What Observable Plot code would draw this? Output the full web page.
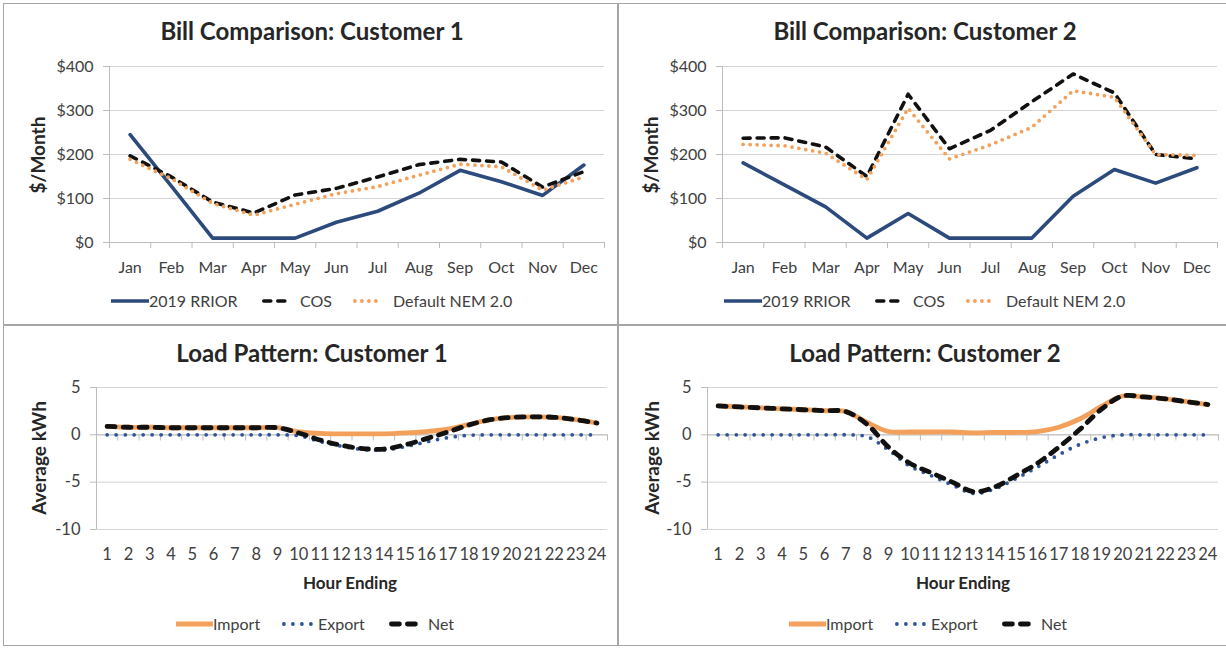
<!DOCTYPE html>
<html><head><meta charset="utf-8">
<script src="https://cdn.jsdelivr.net/npm/d3@7"></script>
<script src="https://cdn.jsdelivr.net/npm/@observablehq/plot@0.6"></script>
<style>
body{margin:0;background:#fff;font-family:Lato,"Open Sans",sans-serif;}
#root{position:relative;width:1226px;height:648px;overflow:hidden;background:#fff}
.panel{position:absolute;width:613px;}
.panel svg{position:absolute;left:0;top:0;}
.abs{position:absolute;white-space:nowrap;color:#262626;line-height:1}
.title{font-weight:bold;font-size:24px;transform:translate(-50%,-50%)}
.ylab{font-weight:bold;font-size:19px;transform:translate(-50%,-50%) rotate(-90deg)}
.xlab{font-weight:bold;font-size:17px;transform:translate(-50%,-50%)}
.legtxt{font-size:16px;color:#404040;transform:translateY(-50%)}
.sw{position:absolute;overflow:visible}
.line{position:absolute;background:#a6a6a6}
</style>
</head><body><div id="root"></div>
<script>
// ---- data ----
const months = ["Jan","Feb","Mar","Apr","May","Jun","Jul","Aug","Sep","Oct","Nov","Dec"];
const billTicks = [0,100,200,300,400];
const c1Rroir = [245,128,10,10,10,46,71,112,164,138,107,176];
const c1Cos   = [197,149,92,67,108,123,149,177,189,183,126,161];
const c1Nem   = [189,145,89,62,87,111,127,153,178,172,119,149];
const c2Rroir = [181,131,81,10,66,10,10,10,105,166,135,170];
const c2Cos   = [237,238,217,150,337,213,255,320,383,340,200,190];
const c2Nem   = [223,220,203,143,305,190,222,262,345,330,200,198];

const hours = [1,2,3,4,5,6,7,8,9,10,11,12,13,14,15,16,17,18,19,20,21,22,23,24];
const loadTicks = [-10,-5,0,5];
const c1Import = [0.9,0.8,0.8,0.75,0.75,0.75,0.75,0.75,0.75,0.3,0.15,0.1,0.1,0.1,0.2,0.35,0.6,1.1,1.6,1.85,1.9,1.85,1.6,1.25];
const c1Export = [0,0,0,0,0,0,0,0,0,-0.1,-0.7,-1.2,-1.55,-1.6,-1.25,-0.75,-0.3,-0.05,0,0,0,0,0,0];
const c1Net    = [0.9,0.8,0.8,0.75,0.75,0.75,0.75,0.75,0.75,0.2,-0.55,-1.1,-1.45,-1.5,-1.05,-0.4,0.3,1.05,1.6,1.85,1.9,1.85,1.6,1.25];
const c2Import = [3.05,2.95,2.85,2.75,2.65,2.55,2.45,1.3,0.35,0.3,0.3,0.3,0.2,0.25,0.25,0.35,0.8,1.7,3.0,4.1,4.0,3.8,3.5,3.2];
const c2Export = [0,0,0,0,0,0,0,-0.2,-1.6,-3.3,-4.3,-5.3,-6.2,-5.7,-4.6,-3.4,-2.1,-1.0,-0.3,0,0,0,0,0];
const c2Net    = [3.05,2.95,2.85,2.75,2.65,2.55,2.45,1.1,-1.3,-3.0,-4.0,-5.0,-6.0,-5.5,-4.3,-3.0,-1.3,0.6,2.7,4.1,4.0,3.8,3.5,3.2];

// ---- styles ----
const NAVY = "#2c4a7c", ORANGE = "#f2a05a", BLUE = "#2f5597", BLACK = "#111";
const GRID = "#d4d4d4", AXIS = "#bcbcbc", TXT = "#404040";

function billChart(rroir, cos, nem) {
  const idx = months.map((m, i) => i);
  const bounds = [...idx.map(i => i - 0.5), months.length - 0.5];
  return Plot.plot({
    width: 613, height: 325,
    marginLeft: 109, marginRight: 9, marginTop: 66, marginBottom: 83,
    style: {fontFamily: "Lato, sans-serif", fontSize: "16px", color: TXT, background: "transparent", overflow: "visible"},
    x: {domain: [-0.5, months.length - 0.5], axis: null},
    y: {domain: [0, 400], axis: null},
    marks: [
      Plot.gridY(billTicks, {stroke: GRID, strokeOpacity: 1}),
      Plot.ruleX([-0.5], {stroke: AXIS}),
      Plot.ruleY([0], {stroke: AXIS}),
      Plot.axisY({ticks: billTicks, tickFormat: d => "$" + d, tickSize: 6, tickPadding: 10, stroke: AXIS, fill: TXT, label: null}),
      Plot.axisX({ticks: bounds, tickFormat: () => "", tickSize: 6, stroke: AXIS, label: null}),
      Plot.axisX({ticks: idx, tickFormat: i => months[i], tickSize: 0, tickPadding: 19, fill: TXT, label: null}),
      Plot.lineY(rroir, {x: (d, i) => i, y: d => d, stroke: NAVY, strokeWidth: 3.6}),
      Plot.lineY(cos, {x: (d, i) => i, y: d => d, stroke: BLACK, strokeWidth: 3.6, strokeDasharray: "7,7", strokeLinecap: "round"}),
      Plot.lineY(nem, {x: (d, i) => i, y: d => d, stroke: ORANGE, strokeWidth: 3.8, strokeDasharray: "0,7", strokeLinecap: "round"})
    ]
  });
}

function loadChart(imp, exp, net, ml, mr) {
  const bounds = [...hours.map(h => h - 0.5), hours.length + 0.5];
  return Plot.plot({
    width: 613, height: 323,
    marginLeft: ml, marginRight: mr, marginTop: 62, marginBottom: 119,
    style: {fontFamily: "Lato, sans-serif", fontSize: "16.5px", color: TXT, background: "transparent", overflow: "visible"},
    x: {domain: [0.5, hours.length + 0.5], axis: null},
    y: {domain: [-10, 5], axis: null},
    marks: [
      Plot.gridY(loadTicks, {stroke: GRID, strokeOpacity: 1}),
      Plot.ruleX([0.5], {stroke: AXIS}),
      Plot.axisY({ticks: loadTicks, tickSize: 6, tickPadding: 10, stroke: AXIS, fill: TXT, label: null, tickFormat: d => d}),
      Plot.ruleY([0], {stroke: AXIS}),
      Plot.ruleX(bounds, {y1: 0, y2: -0.65, stroke: AXIS}),
      Plot.axisX({ticks: hours, tickSize: 0, tickPadding: 19, fill: TXT, label: null, tickFormat: d => d}),
      Plot.lineY(imp, {x: (d, i) => hours[i], y: d => d, stroke: ORANGE, strokeWidth: 4.8, curve: "catmull-rom"}),
      Plot.lineY(exp, {x: (d, i) => hours[i], y: d => d, stroke: BLUE, strokeWidth: 3.8, strokeDasharray: "0,9", strokeLinecap: "round", curve: "catmull-rom"}),
      Plot.lineY(net, {x: (d, i) => hours[i], y: d => d, stroke: BLACK, strokeWidth: 4.8, strokeDasharray: "8,8", strokeLinecap: "round", curve: "catmull-rom"})
    ]
  });
}

const root = document.getElementById("root");
function el(parent, cls, text, x, y) {
  const d = document.createElement("div");
  d.className = "abs " + cls;
  d.textContent = text;
  d.style.left = x + "px"; d.style.top = y + "px";
  parent.appendChild(d);
  return d;
}
function swatch(parent, x, y, w, style) {
  const ns = "http://www.w3.org/2000/svg";
  const s = document.createElementNS(ns, "svg");
  s.setAttribute("class", "sw");
  s.setAttribute("width", w); s.setAttribute("height", 10);
  s.style.left = x + "px"; s.style.top = (y - 5) + "px";
  const l = document.createElementNS(ns, "line");
  l.setAttribute("x1", style.cap === "round" ? style.sw / 2 : 0);
  l.setAttribute("x2", style.cap === "round" ? w - style.sw / 2 : w);
  l.setAttribute("y1", 5); l.setAttribute("y2", 5);
  l.setAttribute("stroke", style.color);
  l.setAttribute("stroke-width", style.sw);
  if (style.dash) l.setAttribute("stroke-dasharray", style.dash);
  l.setAttribute("stroke-linecap", style.cap || "butt");
  s.appendChild(l);
  parent.appendChild(s);
}
function panel(x, y, h) {
  const p = document.createElement("div");
  p.className = "panel";
  p.style.left = x + "px"; p.style.top = y + "px"; p.style.height = h + "px";
  root.appendChild(p);
  return p;
}
function hline(x, y, w, h) { const d = document.createElement("div"); d.className = "line"; Object.assign(d.style, {left: x + "px", top: y + "px", width: w + "px", height: h + "px"}); root.appendChild(d); }

// borders
hline(3, 3, 1223, 1);
hline(3, 3, 1, 643);
hline(617, 3, 2, 643);
hline(3, 324, 1223, 2);
hline(3, 645, 1223, 1);

const billLegend = [
  {name: "2019 RRIOR", color: NAVY, sw: 3.6, dash: null, cap: "butt", x: 111, w: 38, tx: 149},
  {name: "COS", color: BLACK, sw: 3.6, dash: "7,7", cap: "round", x: 262, w: 30, tx: 300},
  {name: "Default NEM 2.0", color: ORANGE, sw: 3.8, dash: "0,7", cap: "round", x: 353, w: 31, tx: 393}
];
const loadLegend = [
  {name: "Import", color: ORANGE, sw: 4.8, dash: null, cap: "butt", x: 176, w: 37, tx: 213},
  {name: "Export", color: BLUE, sw: 3.8, dash: "0,9", cap: "round", x: 282, w: 34, tx: 318},
  {name: "Net", color: BLACK, sw: 4.8, dash: "8,8", cap: "round", x: 389, w: 34, tx: 428}
];

function buildBill(px, title, r, c, n) {
  const p = panel(px, 0, 325);
  p.appendChild(billChart(r, c, n));
  el(p, "title", title, 312, 31);
  el(p, "ylab", "$/Month", 37, 155);
  billLegend.forEach(it => { swatch(p, it.x, 301, it.w, it); el(p, "legtxt", it.name, it.tx, 301); });
}
function buildLoad(px, title, a, b, c, ml, mr) {
  const p = panel(px, 325, 323);
  p.appendChild(loadChart(a, b, c, ml, mr));
  el(p, "title", title, 312, 28);
  el(p, "ylab", "Average kWh", 38, 133);
  el(p, "xlab", "Hour Ending", 350, 257);
  loadLegend.forEach(it => { swatch(p, it.x, 299, it.w, it); el(p, "legtxt", it.name, it.tx, 299); });
}
buildBill(0, "Bill Comparison: Customer 1", c1Rroir, c1Cos, c1Nem);
buildBill(613, "Bill Comparison: Customer 2", c2Rroir, c2Cos, c2Nem);
buildLoad(0, "Load Pattern: Customer 1", c1Import, c1Export, c1Net, 96, 6);
buildLoad(613, "Load Pattern: Customer 2", c2Import, c2Export, c2Net, 94, 8);
</script></body></html>
